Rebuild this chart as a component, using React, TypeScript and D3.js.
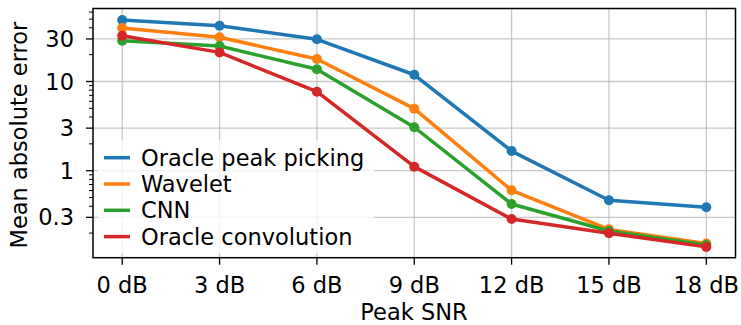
import React from 'react';
import * as d3 from 'd3';

const categories = ['0 dB', '3 dB', '6 dB', '9 dB', '12 dB', '15 dB', '18 dB'];
const oraclePeakPicking = [48.9, 42.2, 29.7, 11.9, 1.66, 0.466, 0.389];
const wavelet = [39.8, 31.3, 17.9, 4.96, 0.603, 0.22, 0.153];
const cnn = [28.7, 25.0, 13.7, 3.07, 0.423, 0.211, 0.147];
const oracleConvolution = [32.6, 21.2, 7.69, 1.11, 0.287, 0.199, 0.14];
const seriesNames = ['Oracle peak picking', 'Wavelet', 'CNN', 'Oracle convolution'];
const seriesColors = ['#1f77b4', '#ff7f0e', '#2ca02c', '#d62728'];
const majorTicks = [0.3, 1, 3, 10, 30];
const majorLabels = ['0.3', '1', '3', '10', '30'];
const minorTicks = [0.2, 0.4, 0.5, 0.6, 0.7, 0.8, 0.9, 2, 4, 5, 6, 7, 8, 9, 20, 40, 50, 60];

const W = 741, H = 325;
const L = 93, R = 735.5, T = 8.5, B = 257.7;
const FONT = 'DejaVu Sans, sans-serif';
const FS = 22.5;

function Txt(props: { x: number; y: number; anchor?: string; dy?: string; rotate?: boolean; children: React.ReactNode }) {
  const { x, y, anchor, dy, rotate, children } = props;
  const tf = rotate ? `translate(${x},${y}) rotate(-90)` : `translate(${x},${y})`;
  return (
    <text transform={tf} textAnchor={anchor || 'start'} dy={dy} fontSize={FS} fill="#000">{children}</text>
  );
}

export default function App() {
  const series = [oraclePeakPicking, wavelet, cnn, oracleConvolution];
  const x = d3.scaleLinear().domain([-0.3, 6.3]).range([L, R]);
  const y = d3.scaleLog().domain([0.1059, 65.8]).range([B, T]);
  const line = d3.line<number>().x((_, i) => x(i)).y((d) => y(d));
  const legendY0 = 157.7, legendStep = 26.3;
  return (
    <svg width={W} height={H} style={{ position: 'absolute', left: 0, top: 0, background: '#fff' }} fontFamily={FONT}>
      <rect x={0} y={0} width={W} height={H} fill="#fff" />
      {categories.map((_, i) => (
        <line key={'gx' + i} x1={x(i)} x2={x(i)} y1={T} y2={B} stroke="#b0b0b0" strokeOpacity={0.7} strokeWidth={1.3} />
      ))}
      {majorTicks.map((v) => (
        <line key={'gy' + v} x1={L} x2={R} y1={y(v)} y2={y(v)} stroke="#b0b0b0" strokeOpacity={0.7} strokeWidth={1.3} />
      ))}
      {series.map((s, k) => (
        <g key={'s' + k}>
          <path d={line(s) || ''} fill="none" stroke={seriesColors[k]} strokeWidth={3.5} strokeLinejoin="round" strokeLinecap="round" />
          {s.map((v, i) => (
            <circle key={i} cx={x(i)} cy={y(v)} r={5} fill={seriesColors[k]} />
          ))}
        </g>
      ))}
      <rect x={98} y={140} width={276} height={113} fill="#fff" fillOpacity={0.8} rx={3} />
      {seriesNames.map((n, k) => (
        <g key={'lg' + k}>
          <line x1={104} x2={130} y1={legendY0 + k * legendStep} y2={legendY0 + k * legendStep} stroke={seriesColors[k]} strokeWidth={3.5} />
          <Txt x={141} y={legendY0 + k * legendStep} dy="0.36em">{n}</Txt>
        </g>
      ))}
      <rect x={L} y={T} width={R - L} height={B - T} fill="none" stroke="#000" strokeWidth={1.5} />
      {categories.map((c, i) => (
        <g key={'xt' + i}>
          <line x1={x(i)} x2={x(i)} y1={B} y2={B + 7} stroke="#000" strokeWidth={1.3} />
          <Txt x={x(i)} y={292.5} anchor="middle">{c}</Txt>
        </g>
      ))}
      {majorTicks.map((v, i) => (
        <g key={'yt' + v}>
          <line x1={L - 7} x2={L} y1={y(v)} y2={y(v)} stroke="#000" strokeWidth={1.3} />
          <Txt x={74} y={y(v)} dy="0.36em" anchor="end">{majorLabels[i]}</Txt>
        </g>
      ))}
      {minorTicks.map((v) => (
        <line key={'ym' + v} x1={L - 4} x2={L} y1={y(v)} y2={y(v)} stroke="#000" strokeWidth={1} />
      ))}
      <Txt x={414} y={319.5} anchor="middle">Peak SNR</Txt>
      <Txt x={27} y={(T + B) / 2 + 2} anchor="middle" rotate>Mean absolute error</Txt>
    </svg>
  );
}
